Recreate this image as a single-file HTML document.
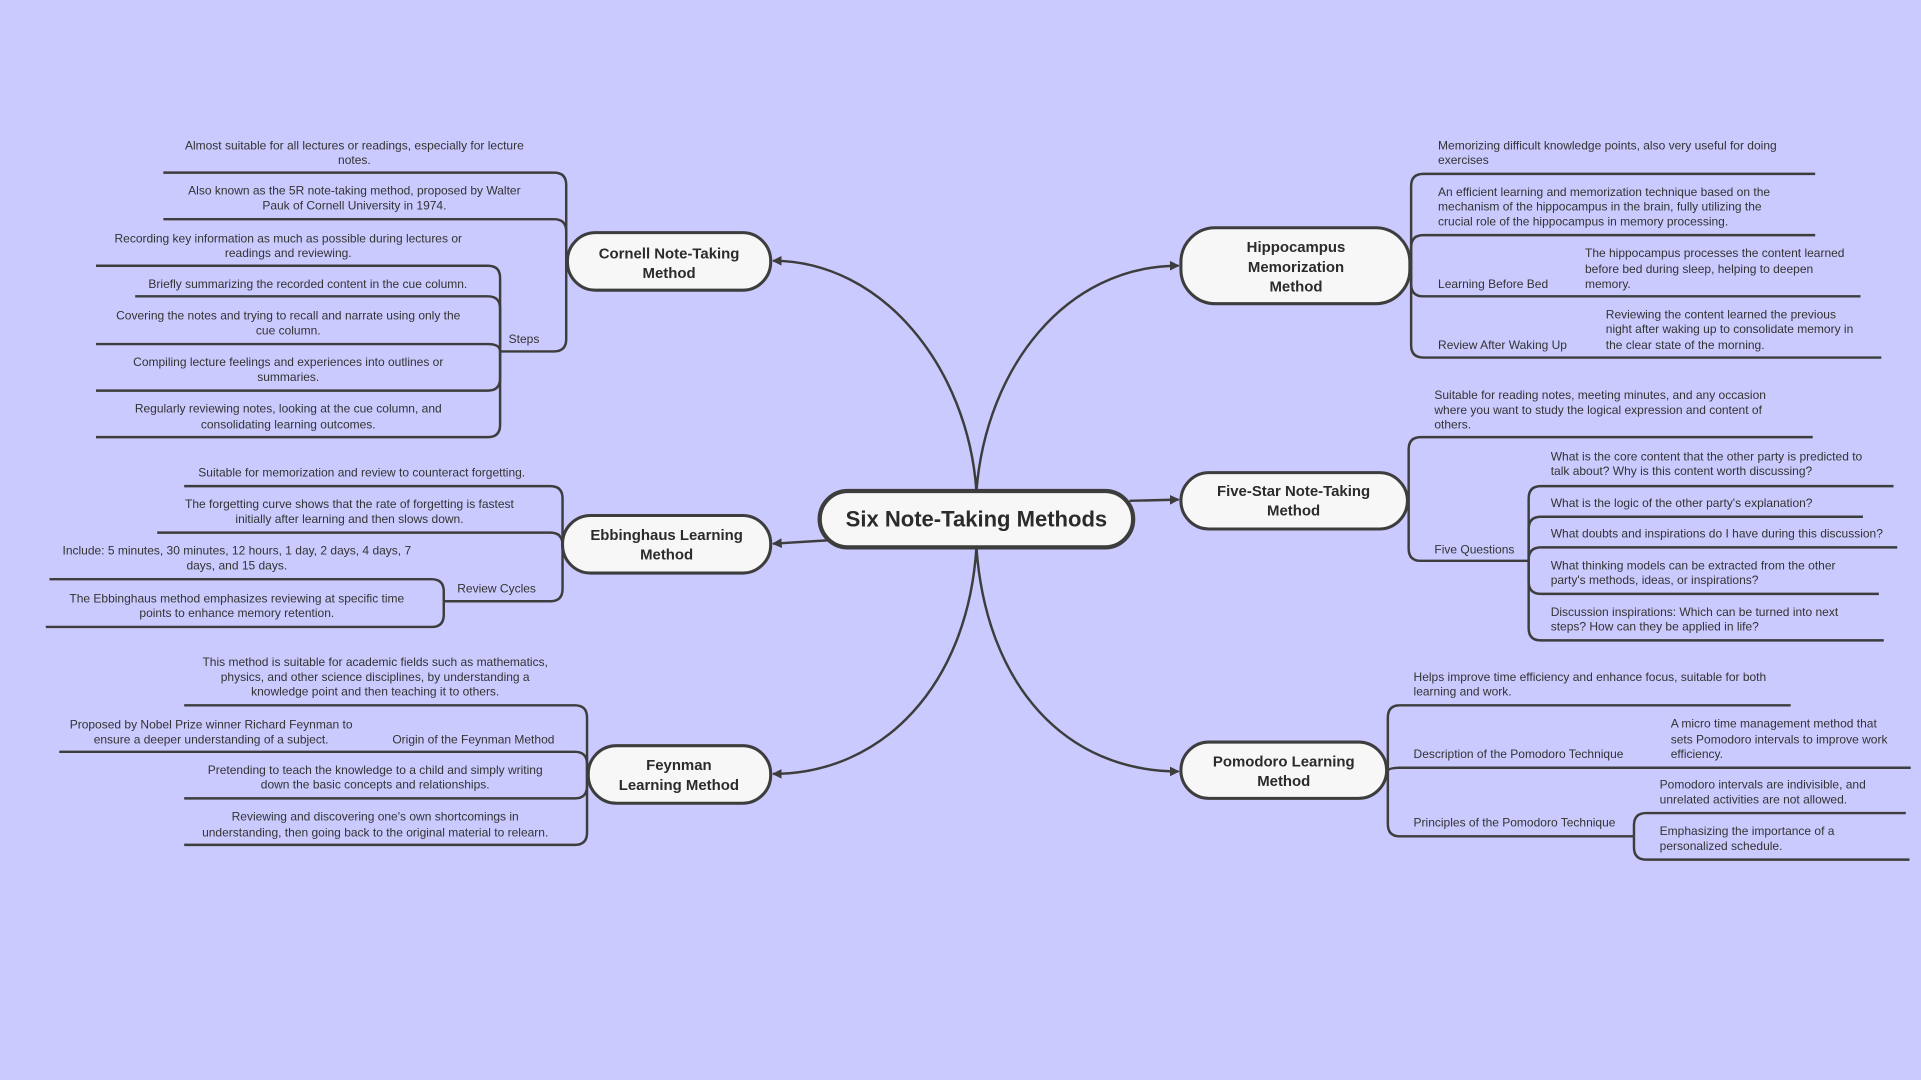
<!DOCTYPE html>
<html><head><meta charset="utf-8"><style>
html,body{margin:0;padding:0;background:#cbcafe;width:1921px;height:1080px;overflow:hidden}
svg{display:block}
text{font-family:"Liberation Sans",sans-serif;fill:#333;font-size:9.8px}
.n{font-weight:bold;font-size:12.2px;fill:#2b2b2b}
.l path{fill:none;stroke:#3d3d3d;stroke-width:2}
</style></head><body>
<svg width="1921" height="1080" viewBox="0 0 1568 882" xmlns="http://www.w3.org/2000/svg">
<defs><marker id="a" markerWidth="8" markerHeight="8" refX="7" refY="4" orient="auto" markerUnits="userSpaceOnUse"><path d="M0,0 L8,4 L0,8 z" fill="#3d3d3d"/></marker></defs>
<g class="l">
<path d="M797,401 C790,300 720,213 631,213" marker-end="url(#a)"/>
<path d="M797,401 C805,300 870,217 962,217" marker-end="url(#a)"/>
<path d="M922,409 L962,408" marker-end="url(#a)"/>
<path d="M680,441 L631,444" marker-end="url(#a)"/>
<path d="M797,447 C790,560 720,632 631,632" marker-end="url(#a)"/>
<path d="M797,447 C805,560 870,630 962,630" marker-end="url(#a)"/>
<path d="M462,213 L462,151 Q462,141 452,141 L133,141"/>
<path d="M462,213 L462,189 Q462,179 452,179 L133,179"/>
<path d="M462,213 L462,277 Q462,287 452,287 L408,287"/>
<path d="M408,287 L408,227 Q408,217 398,217 L78,217"/>
<path d="M408,287 L408,252 Q408,242 398,242 L110,242"/>
<path d="M408,287 Q408,281 398,281 L78,281"/>
<path d="M408,287 L408,309 Q408,319 398,319 L78,319"/>
<path d="M408,287 L408,347 Q408,357 398,357 L78,357"/>
<path d="M459,444 L459,407 Q459,397 449,397 L150,397"/>
<path d="M459,444 L459,445 Q459,435 449,435 L128,435"/>
<path d="M459,444 L459,481 Q459,491 449,491 L362,491"/>
<path d="M362,491 L362,483 Q362,473 352,473 L40,473"/>
<path d="M362,491 L362,502 Q362,512 352,512 L37,512"/>
<path d="M479,632 L479,586 Q479,576 469,576 L150,576"/>
<path d="M479,632 L479,624 Q479,614 469,614 L48,614"/>
<path d="M479,632 L479,642 Q479,652 469,652 L150,652"/>
<path d="M479,632 L479,680 Q479,690 469,690 L150,690"/>
<path d="M1152,217 L1152,152 Q1152,142 1162,142 L1482,142"/>
<path d="M1152,217 L1152,202 Q1152,192 1162,192 L1482,192"/>
<path d="M1152,217 L1152,232 Q1152,242 1162,242 L1519,242"/>
<path d="M1152,217 L1152,282 Q1152,292 1162,292 L1536,292"/>
<path d="M1150,409 L1150,367 Q1150,357 1160,357 L1480,357"/>
<path d="M1150,409 L1150,448 Q1150,458 1160,458 L1248,458"/>
<path d="M1248,458 L1248,407 Q1248,397 1258,397 L1546,397"/>
<path d="M1248,458 L1248,432 Q1248,422 1258,422 L1521,422"/>
<path d="M1248,458 L1248,457 Q1248,447 1258,447 L1549,447"/>
<path d="M1248,458 L1248,475 Q1248,485 1258,485 L1534,485"/>
<path d="M1248,458 L1248,513 Q1248,523 1258,523 L1538,523"/>
<path d="M1133,630 L1133,586 Q1133,576 1143,576 L1462,576"/>
<path d="M1133,630 Q1133,627 1143,627 L1560,627"/>
<path d="M1133,630 L1133,673 Q1133,683 1143,683 L1334,683"/>
<path d="M1334,683 L1334,674 Q1334,664 1344,664 L1556,664"/>
<path d="M1334,683 L1334,692 Q1334,702 1344,702 L1559,702"/>
</g>
<g fill="#f7f7f7" stroke="#3d3d3d" stroke-width="2.5">
<rect x="669" y="401" width="256" height="46" rx="23" stroke-width="3.5"/>
<rect x="463" y="190" width="166" height="47" rx="23"/>
<rect x="459" y="421" width="170" height="47" rx="23"/>
<rect x="480" y="609" width="149" height="47" rx="23"/>
<rect x="964" y="186" width="187" height="62" rx="28"/>
<rect x="964" y="386" width="185" height="46" rx="23"/>
<rect x="964" y="606" width="168" height="46" rx="23"/>
</g>
<text x="797" y="430" text-anchor="middle" style="font-weight:bold;font-size:18px;fill:#2b2b2b">Six Note-Taking Methods</text>
<g text-anchor="middle">
<text class="n" x="546" y="211">Cornell Note-Taking</text><text class="n" x="546" y="227">Method</text>
<text class="n" x="544" y="441">Ebbinghaus Learning</text><text class="n" x="544" y="457">Method</text>
<text class="n" x="554" y="629">Feynman</text><text class="n" x="554" y="645">Learning Method</text>
<text class="n" x="1058" y="206">Hippocampus</text><text class="n" x="1058" y="222">Memorization</text><text class="n" x="1058" y="238">Method</text>
<text class="n" x="1056" y="405">Five-Star Note-Taking</text><text class="n" x="1056" y="421">Method</text>
<text class="n" x="1048" y="626">Pomodoro Learning</text><text class="n" x="1048" y="642">Method</text>
<text x="289" y="122">Almost suitable for all lectures or readings, especially for lecture</text><text x="289" y="134">notes.</text>
<text x="289" y="159">Also known as the 5R note-taking method, proposed by Walter</text><text x="289" y="171">Pauk of Cornell University in 1974.</text>
<text x="235" y="198">Recording key information as much as possible during lectures or</text><text x="235" y="210">readings and reviewing.</text>
<text x="251" y="235">Briefly summarizing the recorded content in the cue column.</text>
<text x="235" y="261">Covering the notes and trying to recall and narrate using only the</text><text x="235" y="273">cue column.</text>
<text x="235" y="299">Compiling lecture feelings and experiences into outlines or</text><text x="235" y="311">summaries.</text>
<text x="235" y="337">Regularly reviewing notes, looking at the cue column, and</text><text x="235" y="350">consolidating learning outcomes.</text>
<text x="295" y="389">Suitable for memorization and review to counteract forgetting.</text>
<text x="285" y="415">The forgetting curve shows that the rate of forgetting is fastest</text><text x="285" y="427">initially after learning and then slows down.</text>
<text x="193" y="453">Include: 5 minutes, 30 minutes, 12 hours, 1 day, 2 days, 4 days, 7</text><text x="193" y="465">days, and 15 days.</text>
<text x="193" y="492">The Ebbinghaus method emphasizes reviewing at specific time</text><text x="193" y="504">points to enhance memory retention.</text>
<text x="306" y="544">This method is suitable for academic fields such as mathematics,</text><text x="306" y="556">physics, and other science disciplines, by understanding a</text><text x="306" y="568">knowledge point and then teaching it to others.</text>
<text x="172" y="595">Proposed by Nobel Prize winner Richard Feynman to</text><text x="172" y="607">ensure a deeper understanding of a subject.</text>
<text x="306" y="632">Pretending to teach the knowledge to a child and simply writing</text><text x="306" y="644">down the basic concepts and relationships.</text>
<text x="306" y="670">Reviewing and discovering one's own shortcomings in</text><text x="306" y="683">understanding, then going back to the original material to relearn.</text>
</g>
<text x="415" y="280">Steps</text>
<text x="373" y="484">Review Cycles</text>
<text x="320" y="607">Origin of the Feynman Method</text>
<text x="1174" y="122">Memorizing difficult knowledge points, also very useful for doing</text><text x="1174" y="134">exercises</text>
<text x="1174" y="160">An efficient learning and memorization technique based on the</text><text x="1174" y="172">mechanism of the hippocampus in the brain, fully utilizing the</text><text x="1174" y="184">crucial role of the hippocampus in memory processing.</text>
<text x="1174" y="235">Learning Before Bed</text>
<text x="1294" y="210">The hippocampus processes the content learned</text><text x="1294" y="223">before bed during sleep, helping to deepen</text><text x="1294" y="235">memory.</text>
<text x="1174" y="285">Review After Waking Up</text>
<text x="1311" y="260">Reviewing the content learned the previous</text><text x="1311" y="272">night after waking up to consolidate memory in</text><text x="1311" y="285">the clear state of the morning.</text>
<text x="1171" y="326">Suitable for reading notes, meeting minutes, and any occasion</text><text x="1171" y="338">where you want to study the logical expression and content of</text><text x="1171" y="350">others.</text>
<text x="1171" y="452">Five Questions</text>
<text x="1266" y="376">What is the core content that the other party is predicted to</text><text x="1266" y="388">talk about? Why is this content worth discussing?</text>
<text x="1266" y="414">What is the logic of the other party's explanation?</text>
<text x="1266" y="439">What doubts and inspirations do I have during this discussion?</text>
<text x="1266" y="465">What thinking models can be extracted from the other</text><text x="1266" y="477">party's methods, ideas, or inspirations?</text>
<text x="1266" y="503">Discussion inspirations: Which can be turned into next</text><text x="1266" y="515">steps? How can they be applied in life?</text>
<text x="1154" y="556">Helps improve time efficiency and enhance focus, suitable for both</text><text x="1154" y="568">learning and work.</text>
<text x="1154" y="619">Description of the Pomodoro Technique</text>
<text x="1364" y="594">A micro time management method that</text><text x="1364" y="607">sets Pomodoro intervals to improve work</text><text x="1364" y="619">efficiency.</text>
<text x="1154" y="675">Principles of the Pomodoro Technique</text>
<text x="1355" y="644">Pomodoro intervals are indivisible, and</text><text x="1355" y="656">unrelated activities are not allowed.</text>
<text x="1355" y="682">Emphasizing the importance of a</text><text x="1355" y="694">personalized schedule.</text>
</svg>
</body></html>
